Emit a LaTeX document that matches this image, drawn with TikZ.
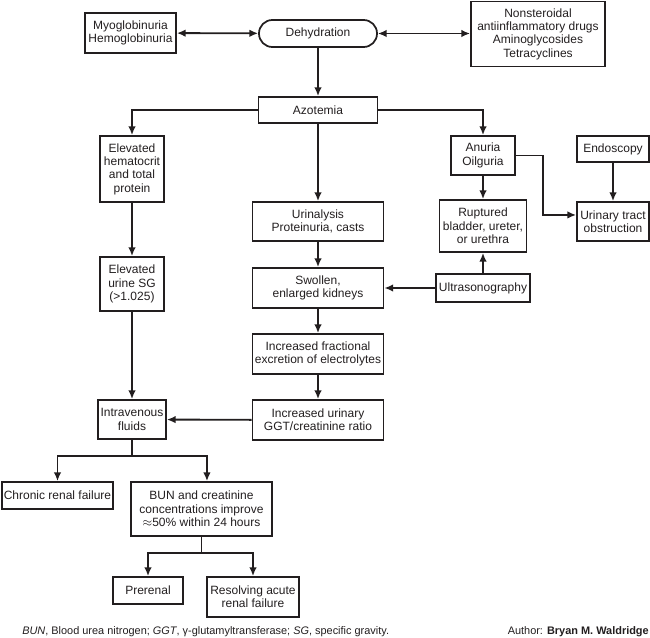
\documentclass[tikz,border=0pt]{standalone}
\usepackage{fontspec}
\setmainfont{Liberation Sans}
\usetikzlibrary{arrows.meta}
\definecolor{ink}{RGB}{34,30,31}

\begin{document}
\begin{tikzpicture}[x=0.75pt,y=-0.75pt,>={Latex[length=6.5pt,width=5.6pt]}]
\tikzstyle{every node}=[font=\fontsize{9pt}{10pt}\selectfont, text=ink]
\tikzstyle{box}=[draw=ink, line width=1.3pt, align=center, inner sep=1pt]
\tikzstyle{link}=[draw=ink, line width=1.4pt]
\useasboundingbox (0,0) rectangle (650,638);
% top row
\node [box, minimum width=68.25pt, minimum height=30pt] (myo) at (130.5,33) {Myoglobinuria\\Hemoglobinuria};
\node [box, rounded corners=10pt, minimum width=88.5pt, minimum height=20.25pt] (dehyd) at (318,33.5) {Dehydration};
\node [box, minimum width=100.5pt, minimum height=48.75pt] (nsaid) at (538,34) {Nonsteroidal\\antiinflammatory drugs\\Aminoglycosides\\Tetracyclines};
\node [box, minimum width=89.25pt, minimum height=19.5pt] (azot) at (318,110) {Azotemia};
% left column
\node [box, minimum width=48pt, minimum height=49.5pt] (hemat) at (132,169) {Elevated\\hematocrit\\and total\\protein};
\node [box, minimum width=48pt, minimum height=40.5pt] (sg) at (132,284) {Elevated\\urine SG\\(>1.025)};
\node [box, minimum width=51pt, minimum height=29.25pt] (iv) at (132,419.5) {Intravenous\\fluids};
% middle column
\node [box, minimum width=98.25pt, minimum height=29.25pt] (urin) at (318,221.5) {Urinalysis\\Proteinuria, casts};
\node [box, minimum width=98.25pt, minimum height=30pt] (swol) at (318,288) {Swollen,\\enlarged kidneys};
\node [box, minimum width=98.25pt, minimum height=30pt] (frac) at (318,354) {Increased fractional\\excretion of electrolytes};
\node [box, minimum width=98.25pt, minimum height=30pt] (ggt) at (318,420) {Increased urinary\\GGT/creatinine ratio};
% right column
\node [box, minimum width=48pt, minimum height=29.25pt] (anur) at (483,155.5) {Anuria\\Oilguria};
\node [box, minimum width=65.25pt, minimum height=39pt] (rupt) at (483,226) {Ruptured\\bladder, ureter,\\or urethra};
\node [box, minimum width=70.5pt, minimum height=21pt] (ultra) at (483,288) {Ultrasonography};
\node [box, minimum width=54pt, minimum height=19.5pt] (endo) at (613,149) {Endoscopy};
\node [box, minimum width=54pt, minimum height=29.25pt] (obst) at (613,221.5) {Urinary tract\\obstruction};
% bottom
\node [box, minimum width=83.25pt, minimum height=20.25pt] (chron) at (57.5,495.5) {Chronic renal failure};
\node [box, minimum width=105.75pt, minimum height=40.5pt] (bun) at (201.5,509) {BUN and creatinine\\concentrations improve\\$\approx$50\% within 24 hours};
\node [box, minimum width=52.5pt, minimum height=20.25pt] (pre) at (148,590.5) {Prerenal};
\node [box, minimum width=69pt, minimum height=30pt] (resol) at (253,597) {Resolving acute\\renal failure};
\node [font=\fontsize{8.2pt}{9pt}\selectfont, anchor=west, inner sep=0pt] (note) at (22,632) {\textit{BUN}, Blood urea nitrogen; \textit{GGT}, γ-glutamyltransferase; \textit{SG}, specific gravity.};
\node [font=\fontsize{8.2pt}{9pt}\selectfont, anchor=east, inner sep=0pt] (auth) at (649,632) {Author: \textbf{Bryan M. Waldridge}};
% connectors
\draw [link, <->] (myo) -- (dehyd);
\draw [link, <->] (dehyd.east) -- (dehyd.east -| nsaid.west);
\draw [link, ->] (dehyd) -- (azot);
\draw [link, ->] (azot.west) -| (hemat.north);
\draw [link, ->] (azot.east) -| (anur.north);
\draw [link, ->] (azot) -- (urin);
\draw [link, ->] (hemat) -- (sg);
\draw [link, ->] (sg) -- (iv);
\draw [link, ->] (urin) -- (swol);
\draw [link, ->] (swol) -- (frac);
\draw [link, ->] (frac) -- (ggt);
\draw [link, ->] (ggt) -- (iv);
\draw [link, ->] (ultra) -- (swol);
\draw [link, ->] (ultra) -- (rupt);
\draw [link, ->] (anur) -- (rupt);
\draw [link, ->] (anur.east) -- ++(27,0) |- ([yshift=4.9pt]obst.west);
\draw [link, ->] (endo) -- (obst);
\draw [link] (iv.south) -- ++(0,16) coordinate (ivsplit);
\draw [link, ->] (ivsplit) -| (chron.north);
\draw [link, ->] (ivsplit) -| ([xshift=4.1pt]bun.north);
\draw [link] (bun.south) -- ++(0,16) coordinate (bunsplit);
\draw [link, ->] (bunsplit) -| (pre.north);
\draw [link, ->] (bunsplit) -| (resol.north);
\end{tikzpicture}
\end{document}
